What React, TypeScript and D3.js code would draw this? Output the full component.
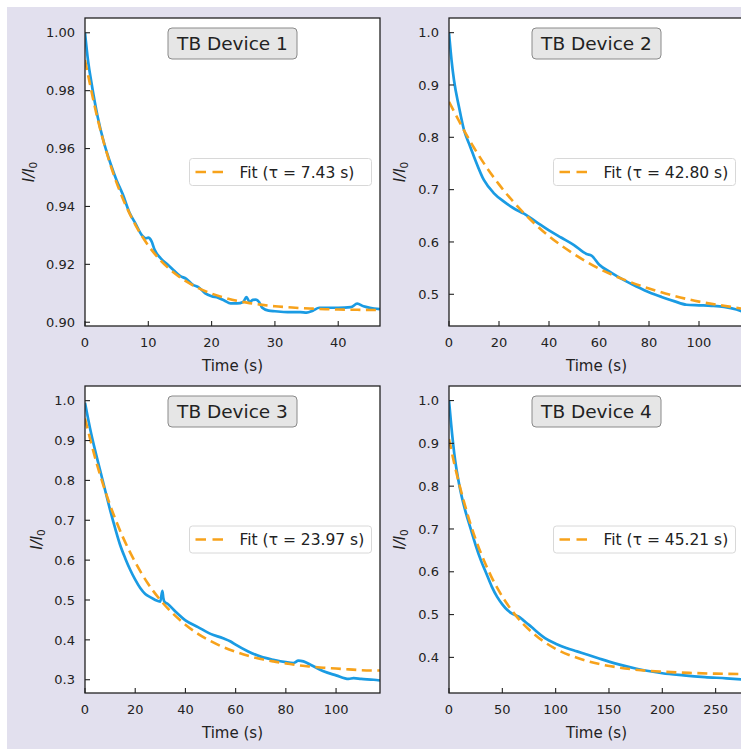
import React from 'react';
import * as d3 from 'd3';

const W = 741;
const H = 749;

// ---------- data ----------
const titles = ['TB Device 1', 'TB Device 2', 'TB Device 3', 'TB Device 4'];
const tauLabels = ['7.43', '42.80', '23.97', '45.21'];

// Device 1
const time1 = [0, 0.5, 1, 2, 3, 4, 5, 6, 7, 8, 9, 9.6, 10, 10.5, 11, 12, 13, 14, 15, 16, 17, 18, 19, 20, 21, 22, 23, 24, 25, 25.5, 26, 26.5, 27, 27.5, 28, 29, 30, 32, 34, 35, 36, 37, 38, 40, 42, 43, 44, 45, 46.6];
const norm1 = [1.0, 0.99, 0.983, 0.971, 0.962, 0.955, 0.949, 0.944, 0.938, 0.934, 0.930, 0.929, 0.9292, 0.928, 0.925, 0.922, 0.920, 0.918, 0.916, 0.915, 0.913, 0.912, 0.910, 0.909, 0.9085, 0.9075, 0.9065, 0.9065, 0.907, 0.9087, 0.907, 0.9077, 0.9078, 0.907, 0.905, 0.904, 0.9038, 0.9035, 0.9035, 0.9033, 0.904, 0.905, 0.905, 0.905, 0.9052, 0.9064, 0.9055, 0.905, 0.9045];
const fitTime1 = [0, 2, 4, 6, 8, 10, 12, 14, 16, 18, 20, 22, 24, 26, 28, 30, 32, 34, 36, 38, 40, 43, 46.6];
const fitNorm1 = [0.9906, 0.9702, 0.9545, 0.9426, 0.9335, 0.9265, 0.9212, 0.9172, 0.9141, 0.9117, 0.9099, 0.9085, 0.9074, 0.9066, 0.906, 0.9055, 0.9052, 0.9049, 0.9047, 0.9045, 0.9044, 0.9043, 0.9042];

// Device 2
const time2 = [0, 1, 2, 4, 6, 8, 10, 14, 18, 22, 26, 30, 35, 40, 45, 50, 55, 57, 60, 65, 70, 75, 80, 85, 90, 95, 100, 105, 110, 115, 118];
const norm2 = [1.0, 0.948, 0.909, 0.858, 0.814, 0.788, 0.763, 0.718, 0.693, 0.677, 0.664, 0.654, 0.638, 0.622, 0.608, 0.594, 0.577, 0.574, 0.557, 0.541, 0.527, 0.515, 0.504, 0.495, 0.487, 0.480, 0.479, 0.478, 0.476, 0.471, 0.466];
const fitTime2 = [0, 10, 20, 30, 40, 50, 60, 70, 80, 90, 100, 110, 118];
const fitNorm2 = [0.868, 0.780, 0.710, 0.655, 0.611, 0.577, 0.549, 0.528, 0.511, 0.497, 0.486, 0.478, 0.472];

// Device 3
const time3 = [0, 2, 4, 6, 8, 10, 12, 14, 16, 18, 20, 22, 24, 26, 28, 30, 30.8, 31.2, 31.6, 33, 36, 40, 45, 50, 55, 58, 60, 65, 70, 75, 80, 83, 85, 87, 90, 95, 100, 105, 107, 110, 115, 117.5];
const norm3 = [0.995, 0.931, 0.876, 0.826, 0.776, 0.726, 0.680, 0.638, 0.605, 0.576, 0.551, 0.530, 0.515, 0.507, 0.500, 0.496, 0.523, 0.505, 0.496, 0.490, 0.471, 0.449, 0.432, 0.415, 0.404, 0.396, 0.388, 0.371, 0.358, 0.350, 0.344, 0.342, 0.348, 0.346, 0.337, 0.321, 0.311, 0.302, 0.304, 0.302, 0.300, 0.298];
const fitTime3 = [0, 5, 10, 15, 20, 25, 30, 35, 40, 45, 50, 55, 60, 65, 70, 75, 80, 85, 90, 95, 100, 105, 110, 117.5];
const fitNorm3 = [0.955, 0.835, 0.738, 0.659, 0.595, 0.542, 0.500, 0.466, 0.438, 0.415, 0.397, 0.382, 0.370, 0.360, 0.352, 0.346, 0.341, 0.336, 0.333, 0.330, 0.328, 0.326, 0.324, 0.323];

// Device 4
const time4 = [0, 2, 5, 10, 15, 20, 25, 30, 35, 40, 45, 50, 55, 60, 65, 70, 75, 80, 90, 100, 110, 120, 130, 140, 150, 160, 175, 190, 200, 220, 240, 260, 276.6];
const norm4 = [1.0, 0.945, 0.875, 0.798, 0.745, 0.703, 0.662, 0.626, 0.596, 0.566, 0.542, 0.524, 0.510, 0.501, 0.496, 0.486, 0.476, 0.465, 0.445, 0.432, 0.422, 0.414, 0.406, 0.398, 0.390, 0.383, 0.374, 0.367, 0.363, 0.358, 0.354, 0.351, 0.348];
const fitTime4 = [0, 5, 10, 15, 20, 25, 30, 40, 50, 60, 70, 80, 90, 100, 120, 140, 160, 180, 200, 225, 250, 276.6];
const fitNorm4 = [0.910, 0.852, 0.801, 0.755, 0.713, 0.676, 0.643, 0.587, 0.542, 0.506, 0.477, 0.454, 0.435, 0.420, 0.399, 0.385, 0.376, 0.370, 0.3666, 0.3638, 0.362, 0.361];

const xDomains = [[0, 46.6], [0, 118], [0, 117.5], [0, 276.6]];
const yDomains = [[0.8987, 1.0051], [0.4394, 1.028], [0.2667, 1.0368], [0.3168, 1.034]];
const xTicks = [[0, 10, 20, 30, 40], [0, 20, 40, 60, 80, 100], [0, 20, 40, 60, 80, 100], [0, 50, 100, 150, 200, 250]];
const yTicks = [
  [0.9, 0.92, 0.94, 0.96, 0.98, 1.0],
  [0.5, 0.6, 0.7, 0.8, 0.9, 1.0],
  [0.3, 0.4, 0.5, 0.6, 0.7, 0.8, 0.9, 1.0],
  [0.4, 0.5, 0.6, 0.7, 0.8, 0.9, 1.0],
];
const yFormats = ['.2f', '.1f', '.1f', '.1f'];

const times = [time1, time2, time3, time4];
const norms = [norm1, norm2, norm3, norm4];
const fitTimes = [fitTime1, fitTime2, fitTime3, fitTime4];
const fitNorms = [fitNorm1, fitNorm2, fitNorm3, fitNorm4];

// ---------- layout ----------
const FONT = '"DejaVu Sans", sans-serif';
const BLUE = '#1a9be3';
const ORANGE = '#f7a21b';
const INK = '#222';
const boxes = [
  { x0: 85, x1: 380, y0: 18, y1: 326, ylabX: 28 },
  { x0: 449, x1: 744, y0: 18, y1: 326, ylabX: 399 },
  { x0: 85, x1: 380, y0: 386, y1: 693, ylabX: 36 },
  { x0: 449, x1: 744, y0: 386, y1: 693, ylabX: 399 },
];

function Panel({ i }: { i: number }) {
  const b = boxes[i];
  const x = d3.scaleLinear().domain(xDomains[i]).range([b.x0, b.x1]);
  const y = d3.scaleLinear().domain(yDomains[i]).range([b.y1, b.y0]);
  const blueData = times[i].map((t, k) => [t, norms[i][k]] as [number, number]);
  const fitData = fitTimes[i].map((t, k) => [t, fitNorms[i][k]] as [number, number]);
  const line = d3.line<[number, number]>().x((d) => x(d[0])).y((d) => y(d[1])).curve(d3.curveMonotoneX);
  const fmt = d3.format(yFormats[i]);
  const cx = (b.x0 + b.x1) / 2;
  const cy = (b.y0 + b.y1) / 2;
  const clipId = `clip${i}`;
  const legW = 182;
  const legH = 27;
  const legX = b.x1 - 8.5 - legW;
  const legY = cy - legH / 2;
  const titleW = 129;
  const titleH = 31;
  return (
    <g>
      <defs>
        <clipPath id={clipId}>
          <rect x={b.x0} y={b.y0} width={b.x1 - b.x0} height={b.y1 - b.y0} />
        </clipPath>
      </defs>
      <rect x={b.x0} y={b.y0} width={b.x1 - b.x0} height={b.y1 - b.y0} fill="#fff" />
      <g clipPath={`url(#${clipId})`}>
        <path d={line(blueData) || ''} fill="none" stroke={BLUE} strokeWidth={2.7} strokeLinejoin="round" />
        <path d={line(fitData) || ''} fill="none" stroke={ORANGE} strokeWidth={2.6} strokeDasharray="10,5.5" />
      </g>
      {/* ticks */}
      {xTicks[i].map((t) => (
        <g key={`xt${t}`}>
          <line x1={x(t)} x2={x(t)} y1={b.y1} y2={b.y1 - 5} stroke={INK} strokeWidth={1.1} />
          <text x={x(t)} y={b.y1 + 21} textAnchor="middle" fontSize={13} fill={INK} fontFamily={FONT}>
            {t}
          </text>
        </g>
      ))}
      {yTicks[i].map((t) => (
        <g key={`yt${t}`}>
          <line x1={b.x0} x2={b.x0 + 5} y1={y(t)} y2={y(t)} stroke={INK} strokeWidth={1.1} />
          <text x={b.x0 - 10} y={y(t)} dy="0.36em" textAnchor="end" fontSize={13} fill={INK} fontFamily={FONT}>
            {fmt(t)}
          </text>
        </g>
      ))}
      <rect x={b.x0} y={b.y0} width={b.x1 - b.x0} height={b.y1 - b.y0} fill="none" stroke={INK} strokeWidth={1.3} />
      {/* axis labels */}
      <text x={cx} y={b.y1 + 45} textAnchor="middle" fontSize={15} fill={INK} fontFamily={FONT}>
        Time (s)
      </text>
      <text
        transform={`translate(${b.ylabX + 5.5},${cy}) rotate(-90)`}
        textAnchor="middle"
        fontSize={15}
        fill={INK}
        fontFamily={FONT}
      >
        <tspan fontStyle="italic">I/I</tspan>
        <tspan fontSize={10.5} dy={3}>0</tspan>
      </text>
      {/* title box */}
      <rect
        x={cx - titleW / 2}
        y={b.y0 + 10}
        width={titleW}
        height={titleH}
        rx={4}
        fill="#e6e6e6"
        stroke="#8a8a8a"
        strokeWidth={1}
      />
      <text x={cx} y={b.y0 + 10 + titleH / 2} dy="0.36em" textAnchor="middle" fontSize={18.5} fill={INK} fontFamily={FONT}>
        {titles[i]}
      </text>
      {/* legend */}
      <rect x={legX} y={legY} width={legW} height={legH} rx={3} fill="#fff" stroke="#d8d8d8" strokeWidth={1} fillOpacity={0.9} />
      <line x1={legX + 6} x2={legX + 34} y1={cy} y2={cy} stroke={ORANGE} strokeWidth={2.6} strokeDasharray="10.5,6.5" />
      <text x={legX + 50} y={cy} dy="0.36em" fontSize={15.5} fill={INK} fontFamily={FONT}>
        {`Fit (τ = ${tauLabels[i]} s)`}
      </text>
    </g>
  );
}

export default function App() {
  return (
    <svg
      width={W}
      height={H}
      style={{ position: 'absolute', left: 0, top: 0, background: '#fff' }}
      xmlns="http://www.w3.org/2000/svg"
    >
      <rect x={0} y={0} width={W} height={H} fill="#fff" />
      <rect x={7} y={7} width={W - 7} height={H - 7} fill="#e2e0ee" />
      {[0, 1, 2, 3].map((i) => (
        <Panel key={i} i={i} />
      ))}
    </svg>
  );
}
